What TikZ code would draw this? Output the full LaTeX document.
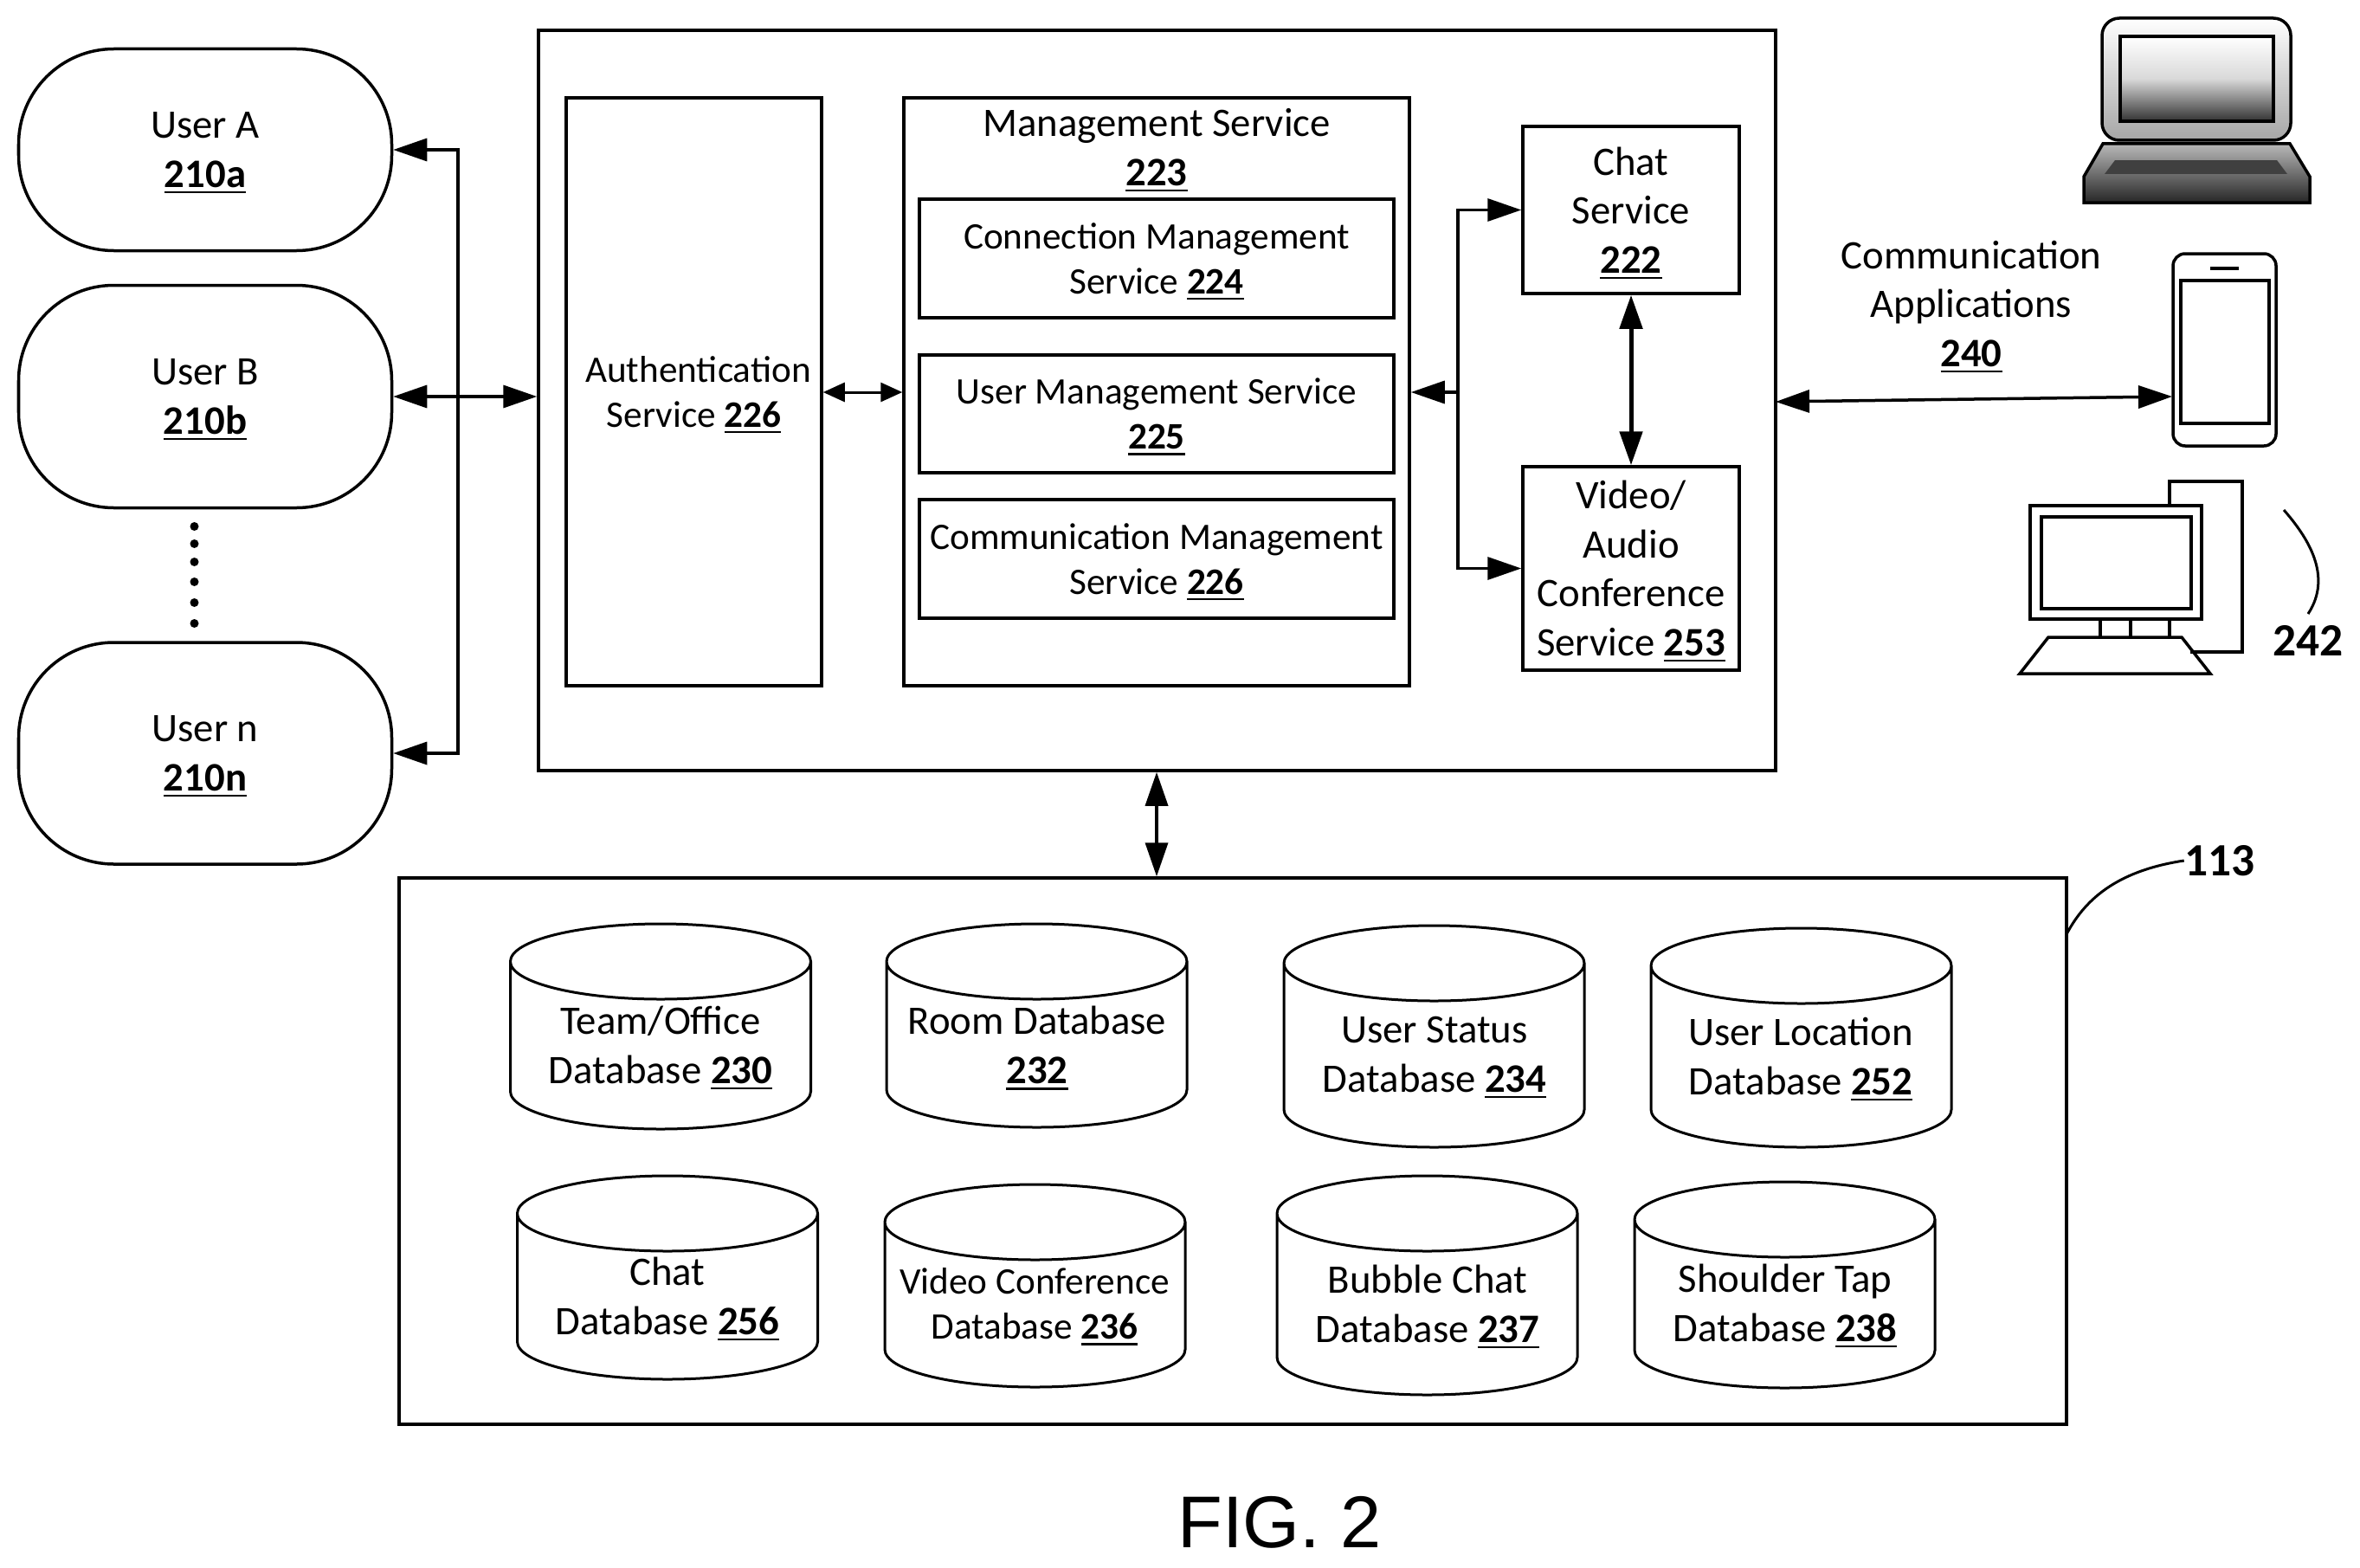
\documentclass[tikz,border=0pt]{standalone}
\usepackage{fontspec}
\setmainfont{Carlito}
\newfontfamily\figfont{Liberation Sans}
\usetikzlibrary{arrows.meta}

\newcommand{\refnum}[1]{\setbox0\hbox{\textbf{#1}}\smash{\rlap{\copy0}\rule[-2pt]{\wd0}{0.7pt}}}
\newcommand{\dbcan}[3]{\draw[dbline] (#1-1.735,#2+0.435) arc[x radius=1.735cm,y radius=0.435cm,start angle=180,end angle=-180] -- ++(0,#3-#2-0.87) arc[x radius=1.735cm,y radius=0.435cm,start angle=180,end angle=360] -- ++(0,-#3+#2+0.87);}

\tikzset{
	every node/.style={align=center,inner sep=0pt,font=\fontsize{13.3}{16.1}\selectfont},
	smalltext/.style={font=\fontsize{12.3}{14.8}\selectfont},
	plainbox/.style={draw,line width=0.035cm},
	userpill/.style={draw,line width=0.035cm,rounded corners=1.1cm,minimum width=4.31cm},
	dbline/.style={line width=0.03cm},
	bigtip/.style={line width=0.035cm,{Triangle[length=0.39cm,width=0.26cm]}-{Triangle[length=0.39cm,width=0.26cm]}},
	bigend/.style={line width=0.035cm,-{Triangle[length=0.39cm,width=0.26cm]}},
	smalltip/.style={line width=0.03cm,{Triangle[length=0.25cm,width=0.22cm]}-{Triangle[length=0.25cm,width=0.22cm]}},
	icon/.style={line width=0.035cm},
	refbold/.style={font=\fontsize{15.2}{17}\selectfont\bfseries}
}

\begin{document}
\begin{tikzpicture}[x=1cm,y=-1cm]
	\useasboundingbox (0,0) rectangle (27.26,18.10);

	\node[userpill,minimum height=2.33cm] (usera) at (2.37,1.73) {User A\\\refnum{210a}};
	\node[userpill,minimum height=2.57cm] (userb) at (2.37,4.58) {User B\\\refnum{210b}};
	\node[userpill,minimum height=2.56cm] (usern) at (2.37,8.70) {User n\\\refnum{210n}};

	\fill (2.245,6.08) circle (0.05);
	\fill (2.245,6.28) circle (0.05);
	\fill (2.245,6.49) circle (0.05);
	\fill (2.245,6.72) circle (0.05);
	\fill (2.245,6.96) circle (0.05);
	\fill (2.245,7.20) circle (0.05);

	\node[plainbox,minimum width=14.29cm,minimum height=8.55cm] (server) at (13.365,4.625) {};
	\node[plainbox,smalltext,minimum width=2.95cm,minimum height=6.79cm] (auth) at (8.015,4.525) {\hspace*{0.1cm}Authentication\\Service \refnum{226}};
	\node[plainbox,minimum width=5.84cm,minimum height=6.79cm] (mgmt) at (13.36,4.525) {};
	\node (mgmttitle) at (13.36,1.70) {Management Service\\\refnum{223}};
	\node[plainbox,smalltext,minimum width=5.48cm,minimum height=1.37cm] (connmgmt) at (13.36,2.985) {Connection Management\\Service \refnum{224}};
	\node[plainbox,smalltext,minimum width=5.48cm,minimum height=1.36cm] (usermgmt) at (13.36,4.78) {User Management Service\\\refnum{225}};
	\node[plainbox,smalltext,minimum width=5.48cm,minimum height=1.37cm] (commmgmt) at (13.36,6.455) {Communication Management\\Service \refnum{226}};
	\node[plainbox,minimum width=2.50cm,minimum height=1.93cm] (chat) at (18.84,2.425) {Chat\\Service\\\refnum{222}};
	\node[plainbox,minimum width=2.50cm,minimum height=2.35cm] (video) at (18.84,6.565) {Video/\\Audio\\Conference\\Service \refnum{253}};

	\coordinate (usersbus) at (5.29,4.58);
	\coordinate (svcbus) at (16.84,4.53);
	\draw[bigtip] (userb.east) -- (userb.east -| server.west);
	\draw[bigend] (usersbus) |- (usera.east);
	\draw[bigend] (usersbus) |- (usern.east);
	\draw[smalltip] (auth.east |- svcbus) -- (mgmt.west |- svcbus);
	\draw[bigend] (svcbus) -- (mgmt.east |- svcbus);
	\draw[bigend] (svcbus) |- (chat.west);
	\draw[bigend] (svcbus) |- (video.west);
	\draw[bigtip,line width=0.05cm] (chat.south) -- (video.north);

	\node[plainbox,minimum width=19.26cm,minimum height=6.31cm] (store) at (14.24,13.295) {};
	\draw[bigtip] (server.south -| mgmt.south) -- (store.north -| mgmt.south);

	\dbcan{7.63}{10.67}{13.04}
	\dbcan{11.975}{10.67}{13.02}
	\dbcan{16.565}{10.69}{13.25}
	\dbcan{20.805}{10.72}{13.25}
	\dbcan{7.71}{13.58}{15.93}
	\dbcan{11.955}{13.68}{16.02}
	\dbcan{16.485}{13.58}{16.11}
	\dbcan{20.615}{13.65}{16.03}

	\node (teamtxt) at (7.63,12.07) {Team/Office\\Database \refnum{230}};
	\node (roomtxt) at (11.98,12.07) {Room Database\\\refnum{232}};
	\node (statustxt) at (16.57,12.18) {User Status\\Database \refnum{234}};
	\node (loctxt) at (20.80,12.20) {User Location\\Database \refnum{252}};
	\node (chattxt) at (7.71,14.97) {Chat\\Database \refnum{256}};
	\node[smalltext] (videotxt) at (11.95,15.06) {Video Conference\\Database \refnum{236}};
	\node (bubbletxt) at (16.49,15.06) {Bubble Chat\\Database \refnum{237}};
	\node (shouldertxt) at (20.62,15.05) {Shoulder Tap\\Database \refnum{238}};

	\node[refbold] (storeref) at (25.64,9.94) {113};
	\coordinate (storehook) at (23.87,10.79);
	\draw[line width=0.03cm] (storehook) .. controls (24.1,10.35) and (24.5,10.05) .. (storeref.west);

	\node (commapps) at (22.77,3.505) {Communication\\Applications\\\refnum{240}};
	\coordinate (srvport) at (20.51,4.64);
	\coordinate (phoneport) at (25.09,4.58);
	\draw[bigtip] (srvport) -- (phoneport);

	% laptop
	\shade[top color=white,bottom color=gray!70,draw=black,icon,rounded corners=0.2cm] (24.28,1.62) -- (24.28,0.21) -- (26.46,0.21) -- (26.46,1.62) -- cycle;
	\shade[top color=white,bottom color=black!80,middle color=gray!30,draw=black,icon] (24.49,0.42) rectangle (26.26,1.40);
	\shade[top color=gray!55,bottom color=black!85,draw=black,icon] (24.29,1.66) -- (26.45,1.66) -- (26.68,2.04) -- (26.68,2.34) -- (24.07,2.34) -- (24.07,2.04) -- cycle;
	\fill[black!75] (24.43,1.85) -- (26.30,1.85) -- (26.42,2.01) -- (24.31,2.01) -- cycle;

	% phone
	\draw[icon,rounded corners=0.14cm] (25.10,2.93) rectangle (26.29,5.15);
	\draw[icon] (25.53,3.10) -- (25.86,3.10);
	\draw[icon] (25.19,3.24) rectangle (26.21,4.89);

	% desktop
	\draw[icon] (25.06,5.84) -- (25.06,5.56) -- (25.90,5.56) -- (25.90,7.53) -- (25.30,7.53);
	\draw[icon] (23.45,5.84) rectangle (25.43,7.15);
	\draw[icon] (23.58,5.97) rectangle (25.31,7.03);
	\draw[icon] (24.26,7.15) -- (24.26,7.36);
	\draw[icon] (24.61,7.15) -- (24.61,7.36);
	\draw[icon] (25.06,7.15) -- (25.06,7.36);
	\draw[icon] (23.66,7.36) -- (25.20,7.36) -- (25.53,7.78) -- (23.33,7.78) -- cycle;

	\node[refbold] (deskref) at (26.66,7.40) {242};
	\coordinate (deskhook) at (26.38,5.89);
	\coordinate (deskend) at (26.66,7.09);
	\draw[line width=0.03cm] (deskhook) .. controls (26.65,6.2) and (26.95,6.65) .. (deskend);

	\node[font=\fontsize{24.1}{26}\selectfont\figfont] (figlabel) at (14.78,17.58) {FIG. 2};
\end{tikzpicture}
\end{document}
